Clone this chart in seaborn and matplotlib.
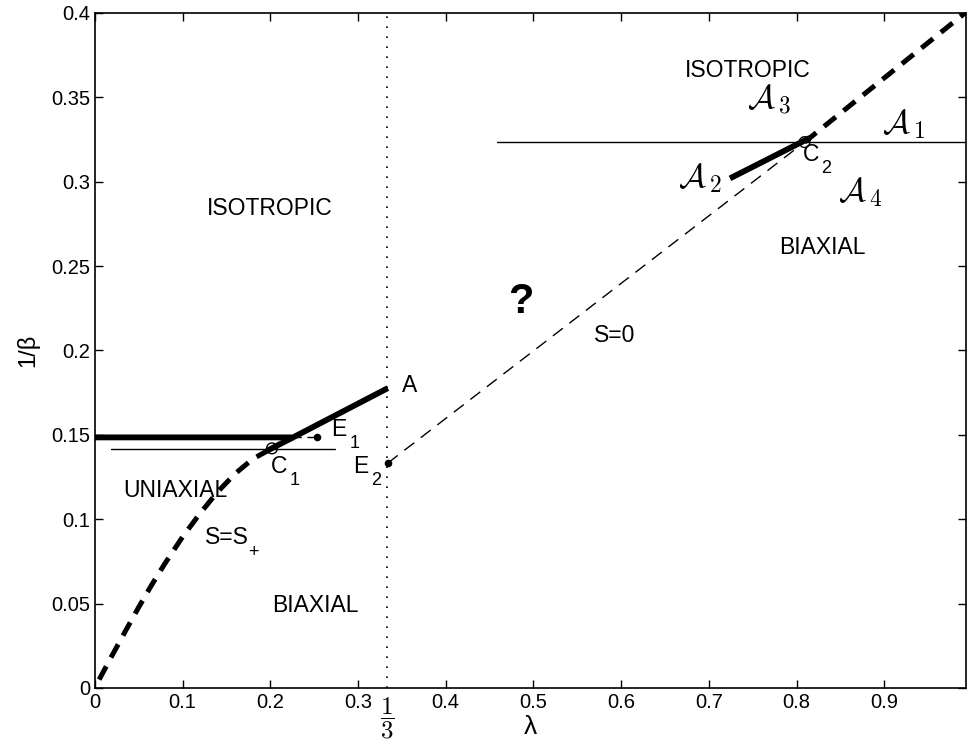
import matplotlib
matplotlib.use("Agg")
import matplotlib.pyplot as plt
import pandas as pd
import seaborn as sns

# S = S+ branch (thick dashed)
splus_lam = [0.005, 0.020, 0.035, 0.050, 0.065, 0.080, 0.100, 0.120,
             0.140, 0.160, 0.180, 0.202]
splus_val = [0.005, 0.0195, 0.0338, 0.0478, 0.0612, 0.0738, 0.0895, 0.1035,
             0.1162, 0.1270, 0.1357, 0.142]

# thick solid transition line (left)
trans_lam = [0.0, 0.226, 0.334]
trans_val = [0.1485, 0.1485, 0.1777]
trans2_lam = [0.196, 0.226]
trans2_val = [0.1405, 0.1485]

# thin horizontal at C1
c1_line_lam = [0.018, 0.274]
c1_line_val = [0.1414, 0.1414]

# short thin dashed towards E1
e1_dash_lam = [0.226, 0.253]
e1_dash_val = [0.1485, 0.1485]

# S = 0 branch: thin dashed from E2 to C2, thick dashed beyond C2
s0_lam = [0.334, 0.809]
s0_val = [0.1333, 0.3235]
s0_thick_lam = [0.809, 0.993]
s0_thick_val = [0.3235, 0.4005]

# thick solid near C2
right_lam = [0.724, 0.815]
right_val = [0.302, 0.326]

# thin horizontal at C2
c2_line_lam = [0.4586, 0.993]
c2_line_val = [0.3235, 0.3235]

# special points
circle_lam = [0.202, 0.809]
circle_val = [0.142, 0.3235]
dot_lam = [0.253, 0.334]
dot_val = [0.1485, 0.1333]

xticks = [0, 0.1, 0.2, 0.3, 0.4, 0.5, 0.6, 0.7, 0.8, 0.9]
xticklabels = ["0", "0.1", "0.2", "0.3", "0.4", "0.5", "0.6", "0.7", "0.8", "0.9"]
yticks = [0, 0.05, 0.1, 0.15, 0.2, 0.25, 0.3, 0.35, 0.4]
yticklabels = ["0", "0.05", "0.1", "0.15", "0.2", "0.25", "0.3", "0.35", "0.4"]

sns.set_style("ticks")
plt.rcParams["font.family"] = ["Liberation Sans", "DejaVu Sans"]
plt.rcParams["mathtext.fontset"] = "cm"
plt.rcParams["text.color"] = "black"
plt.rcParams["axes.labelcolor"] = "black"

fig = plt.figure(figsize=(9.67, 7.47), dpi=100)
ax = fig.add_axes([0.098, 0.079, 0.901, 0.9036])


def seg(lam, val, **kw):
    df = pd.DataFrame({"lam": lam, "val": val})
    sns.lineplot(data=df, x="lam", y="val", sort=False, estimator=None,
                 color="black", ax=ax, **kw)


seg(splus_lam, splus_val, linewidth=3.6, linestyle=(0, (3.0, 2.0)))
seg(trans_lam, trans_val, linewidth=4.2, solid_capstyle="butt")
seg(trans2_lam, trans2_val, linewidth=4.2, solid_capstyle="butt")
seg(c1_line_lam, c1_line_val, linewidth=1.0)
seg(e1_dash_lam, e1_dash_val, linewidth=1.0, linestyle=(0, (6, 4)))
seg(s0_lam, s0_val, linewidth=1.0, linestyle=(0, (9, 6)))
seg(s0_thick_lam, s0_thick_val, linewidth=3.6, linestyle=(0, (3.0, 2.0)))
seg(right_lam, right_val, linewidth=4.2, solid_capstyle="butt")
seg(c2_line_lam, c2_line_val, linewidth=1.0)

ax.axvline(1 / 3, color="black", linewidth=1.2, linestyle=(0, (1, 5)))

sns.scatterplot(x=circle_lam, y=circle_val, ax=ax, s=60, marker="o",
                facecolor="none", edgecolor="black", linewidth=1.0, zorder=5)
sns.scatterplot(x=dot_lam, y=dot_val, ax=ax, s=30, marker="o",
                color="black", linewidth=0, zorder=5)

# region labels
fs = 16.5
sub = 13
ax.text(0.200, 0.284, "ISOTROPIC", fontsize=fs, ha="center", va="center")
ax.text(0.744, 0.366, "ISOTROPIC", fontsize=fs, ha="center", va="center")
ax.text(0.829, 0.261, "BIAXIAL", fontsize=fs, ha="center", va="center")
ax.text(0.251, 0.049, "BIAXIAL", fontsize=fs, ha="center", va="center")
ax.text(0.092, 0.117, "UNIAXIAL", fontsize=fs, ha="center", va="center")
ax.text(0.126, 0.089, "S=S", fontsize=fs, ha="left", va="center")
ax.text(0.175, 0.080, "+", fontsize=sub, ha="left", va="center")
ax.text(0.593, 0.209, "S=0", fontsize=fs, ha="center", va="center")
ax.text(0.485, 0.229, "?", fontsize=30, fontweight="bold", ha="center", va="center")

# point labels
ax.text(0.350, 0.179, "A", fontsize=fs, ha="left", va="center")
ax.text(0.269, 0.153, "E", fontsize=fs, ha="left", va="center")
ax.text(0.290, 0.145, "1", fontsize=sub, ha="left", va="center")
ax.text(0.201, 0.131, "C", fontsize=fs, ha="left", va="center")
ax.text(0.222, 0.123, "1", fontsize=sub, ha="left", va="center")
ax.text(0.294, 0.131, "E", fontsize=fs, ha="left", va="center")
ax.text(0.315, 0.123, "2", fontsize=sub, ha="left", va="center")
ax.text(0.807, 0.316, "C", fontsize=fs, ha="left", va="center")
ax.text(0.828, 0.308, "2", fontsize=sub, ha="left", va="center")

fa = 24
ax.text(0.922, 0.334, r"$\mathcal{A}_{\,1}$", fontsize=fa, ha="center", va="center")
ax.text(0.690, 0.302, r"$\mathcal{A}_{\,2}$", fontsize=fa, ha="center", va="center")
ax.text(0.768, 0.349, r"$\mathcal{A}_{\,3}$", fontsize=fa, ha="center", va="center")
ax.text(0.872, 0.294, r"$\mathcal{A}_{\,4}$", fontsize=fa, ha="center", va="center")

ax.set_xlim(0, 0.993)
ax.set_ylim(0, 0.4)
ax.set_xticks(xticks)
ax.set_xticklabels(xticklabels)
ax.set_xticks([1 / 3], minor=True)
ax.set_xticklabels([r"$\dfrac{1}{3}$"], minor=True, fontsize=18)
ax.set_yticks(yticks)
ax.set_yticklabels(yticklabels)
ax.tick_params(which="major", direction="in", length=6, width=1, labelsize=14.5,
               top=True, right=True, colors="black")
ax.tick_params(which="minor", direction="in", length=0, pad=5, top=False,
               colors="black")
ax.set_xlabel("λ", fontsize=19, va="center")
ax.xaxis.set_label_coords(0.5, -0.058)
ax.set_ylabel("1/β", fontsize=17, labelpad=8)
for sp in ax.spines.values():
    sp.set_visible(True)
    sp.set_linewidth(1.2)
    sp.set_color("black")

fig.savefig("out.png", dpi=100)
